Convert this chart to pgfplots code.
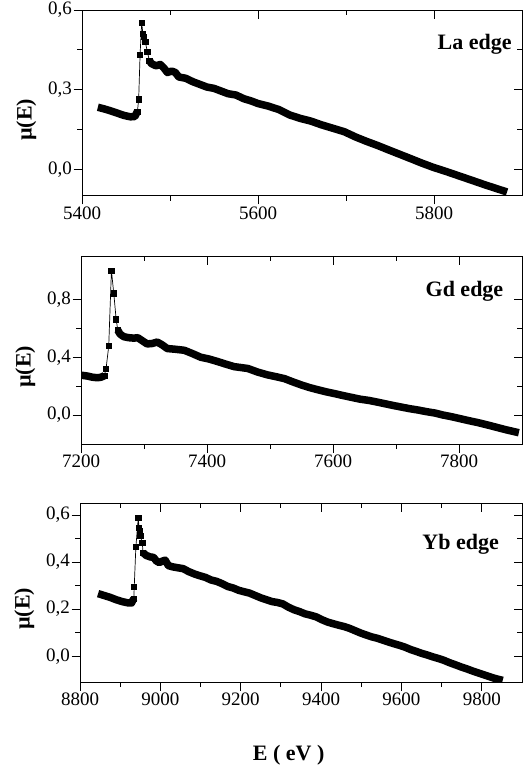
\documentclass[border=0pt]{standalone}
\usepackage{pgfplots}
\pgfplotsset{compat=1.18}
\usepackage{fontspec}
\setmainfont{Liberation Serif}

\tikzset{lbl/.style={font=\fontsize{22}{24}\selectfont\bfseries, anchor=base east, inner sep=0pt}}
\pgfplotsset{
  base/.style={
    scale only axis,
    axis line style={line width=1pt},
    every tick/.style={line width=1pt, black},
    major tick length=8.5pt,
    minor tick length=5pt,
    minor tick num=1,
    clip=true,
  },
  main/.style={
    base,
    tick align=outside,
    xtick pos=left, ytick pos=left,
    /pgf/number format/assume math mode=true,
    ticklabel style={font=\fontsize{19}{21}\selectfont},
    xticklabel style={inner sep=2pt, /pgf/number format/set thousands separator={}},
    yticklabel style={inner sep=1.5pt, /pgf/number format/.cd, fixed, fixed zerofill, precision=1, use comma},
    ylabel={\bfseries\textmu(E)},
    ylabel style={font=\fontsize{22}{24}\selectfont, at={(ticklabel cs:0.41)}, anchor=south, inner sep=10pt},
  },
  over/.style={
    base,
    tick align=inside,
    xtick pos=right, ytick pos=right,
    xticklabels={}, yticklabels={},
  },
  band/.style={black, line width=7.5pt, line join=round, line cap=butt, mark=none},
  edge/.style={black, line width=0.7pt, mark=square*, mark size=2.6pt, mark options={solid}},
}

\begin{document}
\begin{tikzpicture}
\useasboundingbox (0pt,0pt) rectangle (527pt,-775pt);

% ---------------- Panel 1: La edge ----------------
\begin{axis}[main, at={(82pt,-196pt)}, anchor=south west, width=440pt, height=186pt,
  xmin=5400, xmax=5900, ymin=-0.1, ymax=0.6,
  xtick={5400,5600,5800}, ytick={0,0.3,0.6}]
\addplot[band] coordinates {
 (5418,0.234) (5425,0.228) (5432,0.221) (5440,0.212) (5448,0.203) (5455,0.198) (5460,0.199) (5463,0.218)};
\addplot[edge] coordinates {
 (5463,0.218) (5464.4,0.264) (5466,0.432) (5467.8,0.552) (5469.2,0.510) (5470.5,0.498) (5472,0.479) (5474.2,0.444) (5476.5,0.410)};
\addplot[band] coordinates {
 (5476.5,0.410) (5479,0.398) (5484,0.390) (5489,0.395) (5493,0.382) (5497,0.365) (5502,0.370)
 (5506,0.365) (5510,0.348) (5518,0.343) (5526,0.330) (5534,0.320) (5542,0.310) (5550,0.305)
 (5558,0.295) (5566,0.285) (5575,0.280) (5584,0.266) (5592,0.258) (5600,0.248) (5612,0.238)
 (5624,0.225) (5636,0.205) (5648,0.192) (5660,0.182) (5672,0.168) (5685,0.155) (5698,0.142)
 (5711,0.122) (5723,0.106) (5736,0.090) (5748,0.074) (5761,0.057) (5774,0.040) (5786,0.024)
 (5799,0.008) (5814,-0.008) (5829,-0.025) (5844,-0.042) (5858,-0.058) (5871,-0.072) (5883,-0.085)};
\node[lbl] at (rel axis cs:0.977,0.79) {La edge};
\end{axis}
\begin{axis}[over, at={(82pt,-196pt)}, anchor=south west, width=440pt, height=186pt,
  xmin=5400, xmax=5900, ymin=-0.1, ymax=0.6,
  xtick={5400,5600,5800}, ytick={0,0.3,0.6}]
\end{axis}

% ---------------- Panel 2: Gd edge ----------------
\begin{axis}[main, at={(81pt,-444pt)}, anchor=south west, width=441pt, height=188pt,
  xmin=7200, xmax=7900, ymin=-0.2, ymax=1.1,
  xtick={7200,7400,7600,7800}, ytick={0,0.4,0.8}]
\addplot[band] coordinates {
 (7200,0.276) (7210,0.270) (7218,0.262) (7226,0.258) (7232,0.262) (7237,0.272)};
\addplot[edge] coordinates {
 (7237,0.272) (7239.8,0.322) (7244,0.476) (7248.3,0.999) (7252,0.842) (7255.8,0.662) (7258.4,0.587)};
\addplot[band] coordinates {
 (7258.4,0.587) (7262,0.560) (7268,0.542) (7276,0.535) (7284,0.532) (7290,0.535) (7297,0.515)
 (7305,0.492) (7313,0.495) (7321,0.505) (7329,0.485) (7337,0.460) (7350,0.455) (7364,0.448)
 (7377,0.425) (7390,0.400) (7403,0.388) (7417,0.370) (7430,0.352) (7443,0.335) (7455,0.328)
 (7465,0.322) (7480,0.298) (7496,0.278) (7510,0.265) (7523,0.252) (7536,0.230) (7550,0.208)
 (7563,0.190) (7576,0.175) (7590,0.160) (7603,0.148) (7616,0.135) (7630,0.122) (7643,0.110)
 (7656,0.102) (7670,0.090) (7683,0.078) (7696,0.066) (7709,0.055) (7722,0.044) (7735,0.035)
 (7748,0.024) (7762,0.014) (7775,0.000) (7789,-0.012) (7802,-0.025) (7815,-0.038) (7830,-0.052)
 (7845,-0.068) (7860,-0.085) (7875,-0.102) (7895,-0.122)};
\node[lbl] at (rel axis cs:0.958,0.783) {Gd edge};
\end{axis}
\begin{axis}[over, at={(81pt,-444pt)}, anchor=south west, width=441pt, height=188pt,
  xmin=7200, xmax=7900, ymin=-0.2, ymax=1.1,
  xtick={7200,7400,7600,7800}, ytick={0,0.4,0.8}]
\end{axis}

% ---------------- Panel 3: Yb edge ----------------
\begin{axis}[main, at={(80pt,-682pt)}, anchor=south west, width=442pt, height=178.7pt,
  xmin=8800, xmax=9900, ymin=-0.11, ymax=0.65,
  xtick={8800,9000,9200,9400,9600,9800}, ytick={0,0.2,0.4,0.6},
  xlabel={\bfseries E ( eV )},
  xlabel style={font=\fontsize{22}{24}\selectfont, at={(axis description cs:0.472,-0.408)}, anchor=center}]
\addplot[band] coordinates {
 (8845,0.266) (8860,0.258) (8875,0.250) (8890,0.240) (8905,0.232) (8918,0.227) (8928,0.226) (8934,0.245)};
\addplot[edge] coordinates {
 (8934,0.245) (8935,0.296) (8939,0.464) (8945,0.588) (8947,0.545) (8949,0.531) (8950,0.512) (8955,0.482) (8957,0.440)};
\addplot[band] coordinates {
 (8957,0.440) (8965,0.428) (8975,0.422) (8983,0.420) (8990,0.405) (8997,0.398) (9005,0.404)
 (9012,0.408) (9020,0.385) (9030,0.380) (9043,0.376) (9057,0.372) (9070,0.360) (9084,0.350)
 (9098,0.342) (9112,0.335) (9126,0.324) (9140,0.318) (9154,0.308) (9168,0.296) (9181,0.290)
 (9195,0.280) (9208,0.274) (9222,0.268) (9236,0.258) (9250,0.248) (9264,0.240) (9278,0.232)
 (9292,0.228) (9305,0.222) (9319,0.208) (9333,0.197) (9347,0.189) (9360,0.180) (9374,0.174)
 (9388,0.167) (9402,0.155) (9416,0.145) (9430,0.138) (9443,0.132) (9457,0.126) (9471,0.118)
 (9485,0.108) (9499,0.098) (9512,0.090) (9526,0.082) (9540,0.076) (9554,0.068) (9568,0.060)
 (9581,0.053) (9595,0.046) (9609,0.038) (9623,0.028) (9637,0.020) (9650,0.012) (9664,0.005)
 (9678,-0.003) (9692,-0.010) (9706,-0.018) (9720,-0.028) (9733,-0.036) (9747,-0.045) (9761,-0.053)
 (9775,-0.062) (9789,-0.070) (9803,-0.078) (9817,-0.086) (9831,-0.094) (9852,-0.103)};
\node[lbl] at (rel axis cs:0.948,0.739) {Yb edge};
\end{axis}
\begin{axis}[over, at={(80pt,-682pt)}, anchor=south west, width=442pt, height=178.7pt,
  xmin=8800, xmax=9900, ymin=-0.11, ymax=0.65,
  xtick={8800,9000,9200,9400,9600,9800}, ytick={0,0.2,0.4,0.6}]
\end{axis}
\end{tikzpicture}
\end{document}
